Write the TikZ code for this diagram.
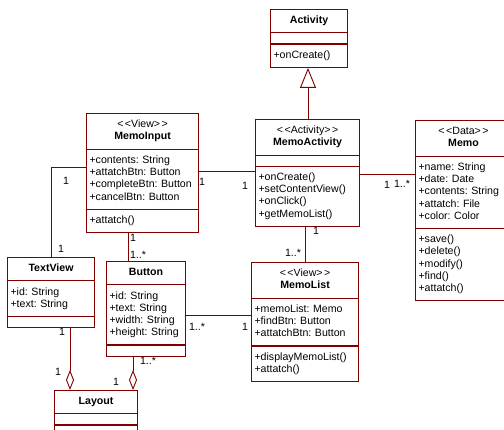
\documentclass[tikz,border=0pt]{standalone}
\usepackage{fontspec}
\setmainfont{Liberation Sans}
\usepackage{tikz}
\usetikzlibrary{calc,shapes.multipart,arrows.meta}
\definecolor{umlred}{RGB}{128,0,0}
\newcommand\umlfont{\fontsize{10.6}{12.25}\selectfont\frenchspacing\hyphenpenalty=10000\parindent=0pt}
\def\stereo#1{<\kern1.5pt<#1>\kern1.5pt>}
\def\classbox{\node[umlclass]}
\def\umlline{\draw[assoc]}

\tikzset{
  umlclass/.style={rectangle split, rectangle split parts=3, draw=umlred,
    line width=1.1pt, inner xsep=3pt, inner ysep=5pt, anchor=north west,
    align=left, font=\umlfont,
    rectangle split empty part height=0pt, rectangle split empty part depth=0pt},
  assoc/.style={draw=umlred, line width=0.9pt},
  aggr/.style={assoc, -{Diamond[open,length=20pt,width=8pt]}},
  inherit/.style={assoc, -{Triangle[open,length=20pt,width=16pt]}},
  mult/.style={font=\umlfont, inner sep=0pt}
}

\begin{document}
\begin{tikzpicture}[x=1pt,y=-1pt]
\useasboundingbox (0,0) rectangle (504,430);
\fill[white] (0,0) rectangle (504,430);
\clip (0,0) rectangle (504,430);

% classes, placed by their top left corner
\classbox[text width=71pt] (Activity) at (270,9)
  {\centering\strut\textbf{Activity}\strut\par
   \nodepart{two}
   \nodepart{three}\strut+onCreate()\strut};
\classbox[text width=106pt] (MemoInput) at (86,113)
  {\centering\strut\stereo{View}\par\textbf{MemoInput}\strut\par
   \nodepart{two}\strut+contents: String\\+attatchBtn: Button\\+completeBtn: Button\\+cancelBtn: Button\strut
   \nodepart{three}\strut+attatch()\strut};
\classbox[text width=98pt] (MemoActivity) at (255,119)
  {\centering\strut\stereo{Activity}\par\textbf{MemoActivity}\strut\par
   \nodepart{two}
   \nodepart{three}\strut+onCreate()\\+setContentView()\\+onClick()\\+getMemoList()\strut};
\classbox[text width=90pt] (Memo) at (415,120)
  {\centering\strut\stereo{Data}\par\textbf{Memo}\strut\par
   \nodepart{two}\strut+name: String\\+date: Date\\+contents: String\\+attatch: File\\+color: Color\strut
   \nodepart{three}\strut+save()\\+delete()\\+modify()\\+find()\\+attatch()\strut};
\classbox[text width=81pt] (TextView) at (7,257)
  {\centering\strut\textbf{TextView}\strut\par
   \nodepart{two}\strut+id: String\\+text: String\strut
   \nodepart{three}};
\classbox[text width=73pt] (Button) at (106,261)
  {\centering\strut\textbf{Button}\strut\par
   \nodepart{two}\strut+id: String\\+text: String\\+width: String\\+height: String\strut
   \nodepart{three}};
\classbox[text width=101pt] (MemoList) at (251,262)
  {\centering\strut\stereo{View}\par\textbf{MemoList}\strut\par
   \nodepart{two}\strut+memoList: Memo\\+findBtn: Button\\+attatchBtn: Button\strut
   \nodepart{three}\strut+displayMemoList()\\+attatch()\strut};
\classbox[text width=77pt] (Layout) at (54,390)
  {\centering\strut\textbf{Layout}\strut\par
   \nodepart{two}
   \nodepart{three}};

% inheritance
\draw[inherit] ($(MemoActivity.north west)+(53,0)$) coordinate (actUp) -- (actUp |- Activity.south);

% associations
\umlline ($(MemoInput.north east)+(0,58)$) coordinate (inAct) -- (inAct -| MemoActivity.west);
\umlline ($(MemoActivity.north east)+(0,55)$) coordinate (actMemo) -- (actMemo -| Memo.west);
\umlline ($(MemoActivity.south west)+(50,0)$) coordinate (actList) -- (actList |- MemoList.north);
\umlline ($(MemoInput.north west)+(0,54)$) -| ($(TextView.north west)+(44,0)$);
\umlline ($(MemoInput.south west)+(42,0)$) coordinate (inBtn) -- (inBtn |- Button.north);
\umlline ($(Button.north east)+(0,54)$) coordinate (btnList) -- (btnList -| MemoList.west);

% aggregations into Layout
\draw[aggr] ($(TextView.south west)+(63,0)$) coordinate (tvLay) -- (tvLay |- Layout.north);
\draw[aggr] ($(Button.south west)+(27,0)$) coordinate (btnLay) -- (btnLay |- Layout.north);

% multiplicities
\node[mult] (inActM) at (202,182) {1};
\node[mult] (actInM) at (245,186) {1};
\node[mult] (actMemoM) at (387,185) {1};
\node[mult] (memoActM) at (402,184) {1..*};
\node[mult] (actListM) at (316,231) {1};
\node[mult] (listActM) at (293,253) {1..*};
\node[mult] (inTvM) at (66,181) {1};
\node[mult] (tvInM) at (61,249) {1};
\node[mult] (inBtnM) at (133,238) {1};
\node[mult] (btnInM) at (138,255) {1..*};
\node[mult] (btnListM) at (197,327) {1..*};
\node[mult] (listBtnM) at (245,327) {1};
\node[mult] (tvLayM) at (62,332) {1};
\node[mult] (layTvM) at (58,372) {1};
\node[mult] (btnLayM) at (148,361) {1..*};
\node[mult] (layBtnM) at (116,382) {1};
\end{tikzpicture}
\end{document}
